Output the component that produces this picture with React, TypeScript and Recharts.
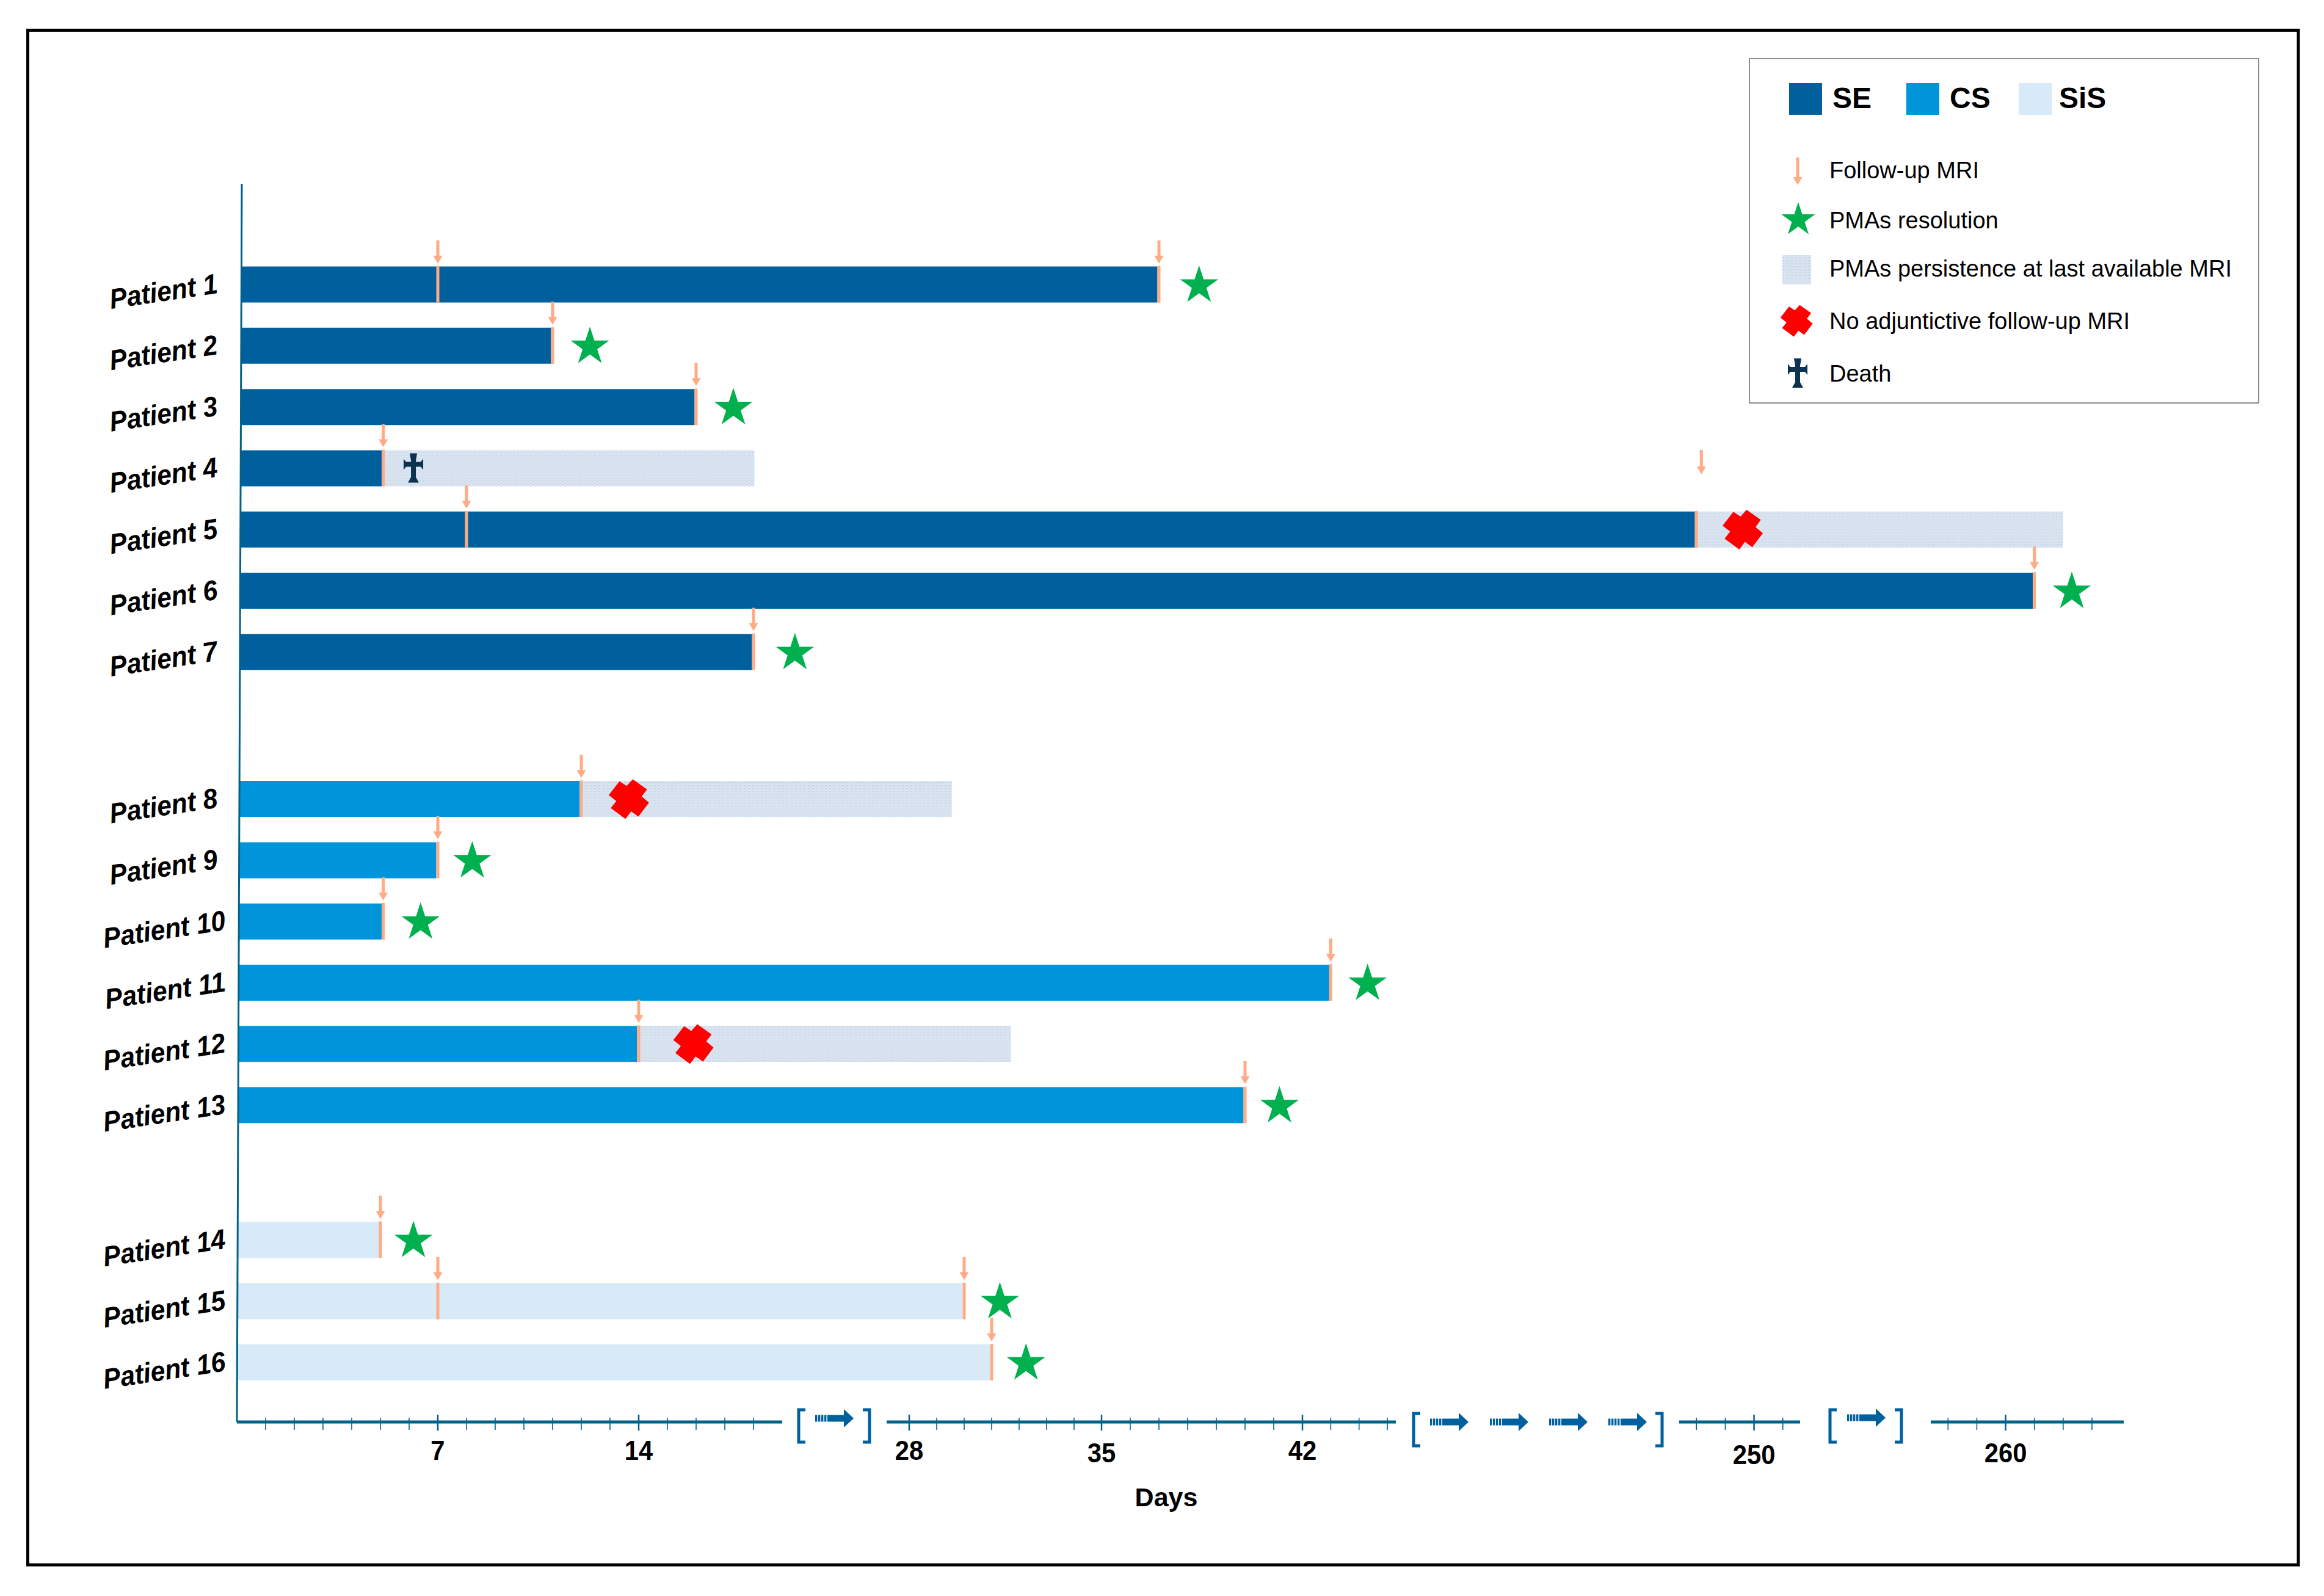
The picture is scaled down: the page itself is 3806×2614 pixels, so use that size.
import { Bar, ComposedChart, ReferenceDot, ReferenceLine, XAxis, YAxis } from "recharts"

const PATIENTS = [
  "Patient 1", "Patient 2", "Patient 3", "Patient 4", "Patient 5", "Patient 6", "Patient 7",
  "Patient 8", "Patient 9", "Patient 10", "Patient 11", "Patient 12", "Patient 13",
  "Patient 14", "Patient 15", "Patient 16",
]
// row slots: the three cohorts are separated by wider gaps
const ROWS = [1, 2, 3, 4, 5, 6, 7, 9.4, 10.4, 11.4, 12.4, 13.4, 14.4, 16.6, 17.6, 18.6]
const COHORTS = ["SE", "SE", "SE", "SE", "SE", "SE", "SE", "CS", "CS", "CS", "CS", "CS", "CS", "SiS", "SiS", "SiS"]
const LAST_MRI_DAY = [37, 11, 16, 5.1, 248, 261, 18, 12, 7, 5.1, 43, 14, 40, 5, 30, 31]
const PERSISTENCE_END = [0, 0, 0, 18.03, 262, 0, 0, 29.55, 0, 0, 0, 31.7, 0, 0, 0, 0]
const MRI_DAYS = [[7, 37], [11], [16], [5.1], [8, 248], [261], [18], [12], [7], [5.1], [43], [14], [40], [5], [7, 30], [31]]
const RESOLUTION_DAY = [38.4, 12.3, 17.3, 0, 0, 262.3, 20, 0, 8.2, 6.4, 44.3, 0, 41.2, 6.15, 31.3, 32.25]
const NO_FOLLOW_UP_DAY = [0, 0, 0, 0, 249.6, 0, 0, 13.65, 0, 0, 0, 15.9, 0, 0, 0, 0]
const DEATH_DAY = [0, 0, 0, 6.15, 0, 0, 0, 0, 0, 0, 0, 0, 0, 0, 0, 0]

const MINOR_TICK_DAYS = [
  1, 2, 3, 4, 5, 6, 7, 8, 9, 10, 11, 12, 13, 14, 15, 16, 17, 18,
  28, 29, 30, 31, 32, 33, 34, 35, 36, 37, 38, 39, 40, 41, 42, 43, 44, 45,
  248, 249, 250, 251, 258, 259, 260, 261, 262, 263,
]
const LABELLED_DAYS = [7, 14, 28, 35, 42, 250, 260]
const AXIS_SEGMENTS = [[0, 19], [27.2, 45.3], [247.4, 251.6], [257.4, 264.1]]

// broken time axis: day -> distance along the axis
const SCALE_DAYS = [0, 19, 27.2, 28, 35, 42, 45.3, 247.4, 251.6, 257.4, 263, 264.1]
const SCALE_POS = [0, 893, 1064, 1101, 1416, 1745, 1898, 2362, 2560, 2774, 3038, 3090]

function dayPos(day: number): number {
  let i = 0
  while (i < SCALE_DAYS.length - 2 && day > SCALE_DAYS[i + 1]) i++
  const t = (day - SCALE_DAYS[i]) / (SCALE_DAYS[i + 1] - SCALE_DAYS[i])
  return SCALE_POS[i] + t * (SCALE_POS[i + 1] - SCALE_POS[i])
}

const SE_COLOR = "#00609e"
const CS_COLOR = "#0095db"
const SIS_COLOR = "#d8e9f7"
const AXIS_COLOR = "#006289"
const ARROW_COLOR = "#ffab85"
const BREAK_COLOR = "#00609e"
const FONT = "'Liberation Sans', Arial, sans-serif"

const ROW_TOP = -0.642
const ROW_BOTTOM = 19.577
const BAR_LEAN = 8 // the left edge of the chart leans slightly
const MARK_WIDTH = 5

const lean = (row: number) => ((ROW_BOTTOM - row) / (ROW_BOTTOM - ROW_TOP)) * BAR_LEAN

const rows = PATIENTS.map((name, i) => {
  const start = lean(ROWS[i])
  // the cohort colour stops where the orange MRI mark begins
  const treated = dayPos(LAST_MRI_DAY[i]) - start - MARK_WIDTH / 2
  return {
    name,
    row: ROWS[i],
    lead: start,
    SE: COHORTS[i] === "SE" ? treated : 0,
    CS: COHORTS[i] === "CS" ? treated : 0,
    SiS: COHORTS[i] === "SiS" ? treated : 0,
    persistence: PERSISTENCE_END[i] ? dayPos(PERSISTENCE_END[i]) - dayPos(LAST_MRI_DAY[i]) + MARK_WIDTH / 2 : 0,
  }
})

function Star({ cx, cy, r = 33 }: { cx: number; cy: number; r?: number }) {
  const pts: string[] = []
  for (let k = 0; k < 10; k++) {
    const rad = k % 2 === 0 ? r : r * 0.382
    const a = (Math.PI / 5) * k - Math.PI / 2
    pts.push(`${cx + rad * Math.cos(a)},${cy + 2 + rad * Math.sin(a)}`)
  }
  return <polygon points={pts.join(" ")} fill="#00b04f" />
}

const RED_CROSS = [
  [6.7, -32], [30, -15.3], [21.3, -3.7], [33.3, 6.3], [16, 29.3], [4, 20.7],
  [-5.3, 33], [-29.3, 15.3], [-20.3, 3.7], [-32.7, -6], [-15, -28.7], [-3.3, -21],
]

function NoFollowUp({ cx, cy, k = 1 }: { cx: number; cy: number; k?: number }) {
  return <polygon points={RED_CROSS.map(([x, y]) => `${cx + x * k},${cy + y * k}`).join(" ")} fill="#ff0000" />
}

function Dagger({ cx, cy }: { cx: number; cy: number }) {
  return (
    <polygon
      transform={`translate(${cx},${cy})`}
      fill="#0b3350"
      points="-6,-24 6,-24 4,-12 4,-10 12,-10 16,-15 16,3 12,-2 4,-2 4,15 9,24 -9,24 -4,15 -4,-2 -12,-2 -16,3 -16,-15 -12,-10 -4,-10 -4,-12"
    />
  )
}

function MriArrow({ x, tip, length = 38 }: { x: number; tip: number; length?: number }) {
  return (
    <g fill={ARROW_COLOR}>
      <rect x={x - 2.5} y={tip - length} width={5} height={length - 12} />
      <polygon points={`${x - 7.5},${tip - 13} ${x + 7.5},${tip - 13} ${x},${tip}`} />
    </g>
  )
}

function MriMark({ cx, cy, lifted }: { cx: number; cy: number; lifted: boolean }) {
  return (
    <g>
      <rect x={cx - MARK_WIDTH / 2} y={cy - 30} width={MARK_WIDTH} height={60} fill={ARROW_COLOR} />
      {lifted ? <MriArrow x={cx + 8} tip={cy - 90} length={40} /> : <MriArrow x={cx} tip={cy - 34} />}
    </g>
  )
}

function PatientTick({ y, index }: any) {
  const long = index >= 9
  return (
    <text
      transform={`translate(${long ? 371 : 358},${y + 14}) rotate(-8.5) scale(0.93,1)`}
      textAnchor="end"
      fontFamily={FONT}
      fontWeight="bold"
      fontStyle="italic"
      fontSize={46}
      fill="#000"
    >
      {PATIENTS[index]}
    </text>
  )
}

const LABEL_DROP: Record<number, number> = { 35: 4, 250: 7, 260: 4 }

function DayTick({ x, y, index }: any) {
  const day = MINOR_TICK_DAYS[index]
  const major = LABELLED_DAYS.includes(day)
  return (
    <g>
      <line
        x1={x}
        x2={x}
        y1={y + (major ? -12 : -7)}
        y2={y + (major ? 14 : 13)}
        stroke={AXIS_COLOR}
        strokeWidth={major ? 2.5 : 1.6}
      />
      {major && (
        <text
          transform={`translate(${x},${y + 62 + (LABEL_DROP[day] ?? 0)}) scale(0.95,1)`}
          textAnchor="middle"
          fontFamily={FONT}
          fontWeight="bold"
          fontSize={44}
          fill="#000"
        >
          {day}
        </text>
      )}
    </g>
  )
}

function BreakArrow({ x, cy }: { x: number; cy: number }) {
  return (
    <g fill={BREAK_COLOR}>
      {[0, 5, 10, 15].map((d) => (
        <rect key={d} x={x + d} y={cy - 5.5} width={3.4} height={11} />
      ))}
      <rect x={x + 20} y={cy - 5.5} width={28} height={11} />
      <polygon points={`${x + 47},${cy - 15} ${x + 63},${cy} ${x + 47},${cy + 15}`} />
    </g>
  )
}

function Bracket({ x0, x1, y }: { x0: number; x1: number; y: number }) {
  return (
    <g fill="none" stroke={BREAK_COLOR} strokeWidth={5}>
      <path d={`M${x0 + 11} ${y} H${x0} V${y + 53} H${x0 + 11}`} />
      <path d={`M${x1 - 11} ${y} H${x1} V${y + 53} H${x1 - 11}`} />
    </g>
  )
}

function AxisBreaks() {
  return (
    <g>
      <Bracket x0={1308} x1={1424} y={2309} />
      <BreakArrow x={1335} cy={2323} />
      <Bracket x0={2315} x1={2722} y={2315} />
      <BreakArrow x={2342} cy={2329} />
      <BreakArrow x={2440} cy={2329} />
      <BreakArrow x={2537} cy={2329} />
      <BreakArrow x={2634} cy={2329} />
      <Bracket x0={2997} x1={3114} y={2309} />
      <BreakArrow x={3025} cy={2322} />
    </g>
  )
}

function Legend() {
  const text = { fontFamily: FONT, fontSize: 38, fill: "#000" }
  const head = { fontFamily: FONT, fontSize: 48, fontWeight: "bold" as const, fill: "#000" }
  return (
    <g>
      <rect x={2865} y={96} width={834} height={564} fill="#fff" stroke="#8c8c8c" strokeWidth={2} />
      <rect x={2930} y={136} width={54} height={52} fill={SE_COLOR} />
      <text x={3001} y={177} {...head}>SE</text>
      <rect x={3122} y={136} width={54} height={52} fill={CS_COLOR} />
      <text x={3193} y={177} {...head}>CS</text>
      <rect x={3306} y={136} width={54} height={52} fill={SIS_COLOR} />
      <text x={3372} y={177} {...head}>SiS</text>
      <MriArrow x={2944} tip={303} length={45} />
      <text x={2996} y={292} {...text}>Follow-up MRI</text>
      <Star cx={2945} cy={358} r={29} />
      <text x={2996} y={374} {...text}>PMAs resolution</text>
      <rect x={2919} y={418} width={47} height={48} fill="url(#persistence)" />
      <text x={2996} y={453} {...text}>PMAs persistence at last available MRI</text>
      <NoFollowUp cx={2942} cy={525} k={0.8} />
      <text x={2996} y={539} {...text}>No adjuntictive follow-up MRI</text>
      <Dagger cx={2944} cy={611} />
      <text x={2996} y={625} {...text}>Death</text>
    </g>
  )
}

export default function App() {
  const tickPositions = MINOR_TICK_DAYS.map(dayPos)
  return (
    <div style={{ position: "absolute", left: 0, top: 0, width: 3806, height: 2614, background: "#fff" }}>
      <ComposedChart
        width={3806}
        height={2614}
        layout="vertical"
        data={rows}
        margin={{ top: 301, right: 316, bottom: 225, left: 308 }}
        barSize={59}
      >
        <defs>
          <pattern id="persistence" width="7" height="5" patternUnits="userSpaceOnUse">
            <rect width="7" height="5" fill="#dae4f1" />
            <rect x="0" y="1" width="3" height="1" fill="#c3d1e4" />
            <rect x="4" y="3" width="2" height="1" fill="#c8d5e7" />
          </pattern>
        </defs>
        <rect x={45.5} y={49.5} width={3718.5} height={2513.5} fill="none" stroke="#000" strokeWidth={5} />
        <XAxis
          type="number"
          domain={[0, 3102]}
          ticks={tickPositions}
          interval={0}
          axisLine={false}
          tickLine={false}
          tickSize={0}
          tickMargin={0}
          height={60}
          tick={<DayTick />}
        />
        <YAxis
          type="number"
          dataKey="row"
          domain={[ROW_TOP, ROW_BOTTOM]}
          ticks={ROWS}
          interval={0}
          axisLine={false}
          tickLine={false}
          width={80}
          tick={<PatientTick />}
        />
        <Bar dataKey="lead" stackId="row" fill="none" isAnimationActive={false} />
        <Bar dataKey="SE" stackId="row" fill={SE_COLOR} isAnimationActive={false} />
        <Bar dataKey="CS" stackId="row" fill={CS_COLOR} isAnimationActive={false} />
        <Bar dataKey="SiS" stackId="row" fill={SIS_COLOR} isAnimationActive={false} />
        <Bar dataKey="persistence" stackId="row" fill="url(#persistence)" isAnimationActive={false} />
        <ReferenceLine
          segment={[{ x: BAR_LEAN, y: ROW_TOP }, { x: 0, y: ROW_BOTTOM }]}
          stroke={AXIS_COLOR}
          strokeWidth={3}
          ifOverflow="visible"
        />
        {AXIS_SEGMENTS.map(([from, to]) => (
          <ReferenceLine
            key={from}
            segment={[{ x: dayPos(from), y: ROW_BOTTOM }, { x: dayPos(to), y: ROW_BOTTOM }]}
            stroke={AXIS_COLOR}
            strokeWidth={5}
            ifOverflow="visible"
          />
        ))}
        {MRI_DAYS.flatMap((days, i) =>
          days.map((day) => (
            <ReferenceDot
              key={`mri-${i}-${day}`}
              x={dayPos(day)}
              y={ROWS[i]}
              ifOverflow="visible"
              shape={(p: any) => <MriMark cx={p.cx} cy={p.cy} lifted={day === 248} />}
            />
          )),
        )}
        {RESOLUTION_DAY.map((day, i) =>
          day ? (
            <ReferenceDot
              key={`star-${i}`}
              x={dayPos(day)}
              y={ROWS[i]}
              ifOverflow="visible"
              shape={(p: any) => <Star cx={p.cx} cy={p.cy} />}
            />
          ) : null,
        )}
        {NO_FOLLOW_UP_DAY.map((day, i) =>
          day ? (
            <ReferenceDot
              key={`nofu-${i}`}
              x={dayPos(day)}
              y={ROWS[i]}
              ifOverflow="visible"
              shape={(p: any) => <NoFollowUp cx={p.cx} cy={p.cy} />}
            />
          ) : null,
        )}
        {DEATH_DAY.map((day, i) =>
          day ? (
            <ReferenceDot
              key={`death-${i}`}
              x={dayPos(day)}
              y={ROWS[i]}
              ifOverflow="visible"
              shape={(p: any) => <Dagger cx={p.cx} cy={p.cy} />}
            />
          ) : null,
        )}
        <AxisBreaks />
        <Legend />
        <text x={1910} y={2467} textAnchor="middle" fontFamily={FONT} fontWeight="bold" fontSize={43} fill="#000">
          Days
        </text>
      </ComposedChart>
    </div>
  )
}
